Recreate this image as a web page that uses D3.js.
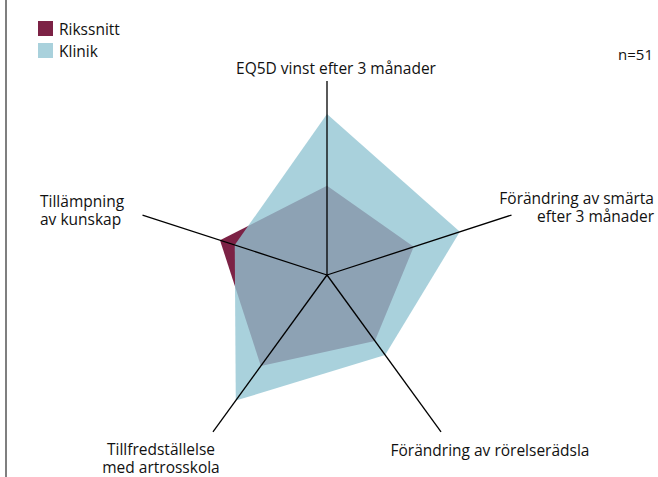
<!DOCTYPE html>
<html>
<head>
<meta charset="utf-8">
<script src="https://cdn.jsdelivr.net/npm/d3@7"></script>
<style>
  body { margin: 0; background: #fff; }
  text { font-family: "Open Sans", sans-serif; fill: #111; }
</style>
</head>
<body>
<div id="chart"></div>
<script>
const categories = [
  ["EQ5D vinst efter 3 månader"],
  ["Förändring av smärta", "efter 3 månader"],
  ["Förändring av rörelserädsla"],
  ["Tillfredställelse", "med artrosskola"],
  ["Tillämpning", "av kunskap"]
];
const seriesNames = ["Rikssnitt", "Klinik"];
const rikssnitt = [0.46, 0.47, 0.42, 0.58, 0.58];
const klinik = [0.83, 0.72, 0.51, 0.80, 0.50];
const nLabel = "n=51";

const RIKS_COLOR = "#7c2245";
const KLIN_COLOR = "#92c5d3";
const KLIN_OPACITY = 0.79;

let width = 658,
  height = 477;
let cx = 327,
  cy = 275;

let svg = d3
  .select("#chart")
  .append("svg")
  .attr("width", width)
  .attr("height", height);

svg.append("rect").attr("width", width).attr("height", height).attr("fill", "#fff");

// left border line
svg.append("line")
  .attr("x1", 6).attr("x2", 6)
  .attr("y1", 0).attr("y2", height)
  .attr("stroke", "#555")
  .attr("stroke-width", 1.5);

let r = d3.scaleLinear().domain([0, 1]).range([0, 194]);
let angle = d3.scaleLinear().domain([0, categories.length]).range([0, 2 * Math.PI]);

let g = svg.append("g").attr("transform", `translate(${cx},${cy})`);

let radial = d3.lineRadial()
  .angle((d, i) => angle(i))
  .radius(d => r(d))
  .curve(d3.curveLinearClosed);

g.append("path")
  .attr("d", radial(rikssnitt))
  .attr("fill", RIKS_COLOR);

g.append("path")
  .attr("d", radial(klinik))
  .attr("fill", KLIN_COLOR)
  .attr("fill-opacity", KLIN_OPACITY);

// axes
g.selectAll("line.axis")
  .data(categories)
  .join("line")
  .attr("class", "axis")
  .attr("x1", 0).attr("y1", 0)
  .attr("x2", (d, i) => r(1) * Math.sin(angle(i)))
  .attr("y2", (d, i) => -r(1) * Math.cos(angle(i)))
  .attr("stroke", "#000")
  .attr("stroke-width", 1.3);

// axis labels
const labelPos = [
  { x: 336, y: 74, anchor: "middle" },
  { x: 654, y: 204, anchor: "end" },
  { x: 490, y: 456, anchor: "middle" },
  { x: 161, y: 455, anchor: "middle" },
  { x: 40, y: 207, anchor: "start" }
];

svg.selectAll("text.cat")
  .data(categories)
  .join("text")
  .attr("class", "cat")
  .attr("x", (d, i) => labelPos[i].x)
  .attr("y", (d, i) => labelPos[i].y)
  .attr("text-anchor", (d, i) => labelPos[i].anchor)
  .attr("font-size", "15.5px")
  .each(function (d, i) {
    d3.select(this).selectAll("tspan")
      .data(d)
      .join("tspan")
      .attr("x", labelPos[i].x)
      .attr("dy", (t, j) => (j === 0 ? 0 : 17.5))
      .text(t => t);
  });

// legend
let legend = svg.selectAll("g.legend")
  .data(seriesNames)
  .join("g")
  .attr("class", "legend")
  .attr("transform", (d, i) => `translate(38,${21 + i * 22})`);

legend.append("rect")
  .attr("width", 15).attr("height", 15)
  .attr("fill", (d, i) => (i === 0 ? RIKS_COLOR : d3.interpolateRgb("#fff", KLIN_COLOR)(KLIN_OPACITY)));

legend.append("text")
  .attr("x", 21).attr("y", 14)
  .attr("font-size", "15.5px")
  .text(d => d);

svg.append("text")
  .attr("x", 653).attr("y", 60)
  .attr("text-anchor", "end")
  .attr("font-size", "15px")
  .text(nLabel);
</script>
</body>
</html>
